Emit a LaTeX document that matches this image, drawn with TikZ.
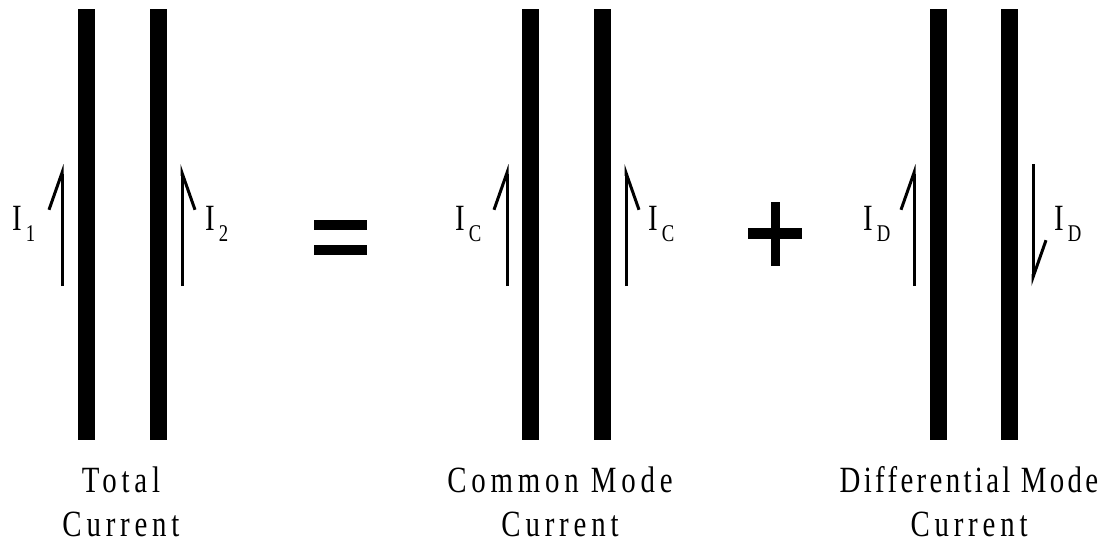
\documentclass[tikz,border=0pt]{standalone}
\usepackage{fontspec}
\setmainfont{Liberation Serif}
\newfontfamily\labelfont[FakeStretch=0.78,LetterSpace=13]{Liberation Serif}
\usepackage{tikz}
\usetikzlibrary{arrows.meta,positioning}

\newcommand{\cur}[1]{I\hspace{4pt}\raisebox{-11pt}{\fontsize{24}{24}\selectfont #1}}

\begin{document}
\begin{tikzpicture}[x=1pt, y=-1pt,
  bar/.style={fill=black, inner sep=0pt, minimum width=17pt, minimum height=431pt},
  lbl/.style={font=\labelfont\fontsize{37}{44}\selectfont, inner sep=0pt, align=center},
  sym/.style={lbl, anchor=base west},
  flow/.style={line width=3pt, -{Straight Barb[#1, length=37pt, width=26pt]}}]
  \useasboundingbox (0,0) rectangle (1108,542);

  % conductor pairs
  \node[bar] (b1) at (86.5,224.5) {};
  \node[bar] (b2) at (158.5,224.5) {};
  \node[bar] (b3) at (530.5,224.5) {};
  \node[bar] (b4) at (602.5,224.5) {};
  \node[bar] (b5) at (938.5,224.5) {};
  \node[bar] (b6) at (1009.5,224.5) {};

  % currents
  \foreach \n/\x/\side in {a/62/left, b/182/right, c/507/left, d/626/right, e/914/left} {
    \coordinate (\n s) at (\x,286);
    \coordinate (\n t) at (\x,164);
    \draw[flow=\side] (\n s) -- (\n t);
  }
  \coordinate (fs) at (1033,164);
  \coordinate (ft) at (1033,286);
  \draw[flow=left] (fs) -- (ft);

  \node[sym] (l1) at (12,230) {\cur{1}};
  \node[sym] (l2) at (205,230) {\cur{2}};
  \node[sym] (l3) at (455,230) {\cur{C}};
  \node[sym] (l4) at (648,230) {\cur{C}};
  \node[sym] (l5) at (863,230) {\cur{D}};
  \node[sym] (l6) at (1054,230) {\cur{D}};

  % = and +
  \fill (314,220) rectangle (367,230);
  \fill (314,245) rectangle (367,255);
  \fill (748,228) rectangle (802,239);
  \fill (771,202) rectangle (780,266);

  % captions
  \node[lbl, anchor=base] (tot) at (121,536) {Total\\Current};
  \node[lbl, anchor=base] (com) at (560,536) {Common Mode\\Current};
  \node[lbl, anchor=base] (dif) at (969,536) {\addfontfeatures{LetterSpace=9}Differential Mode\\Current};
\end{tikzpicture}
\end{document}
